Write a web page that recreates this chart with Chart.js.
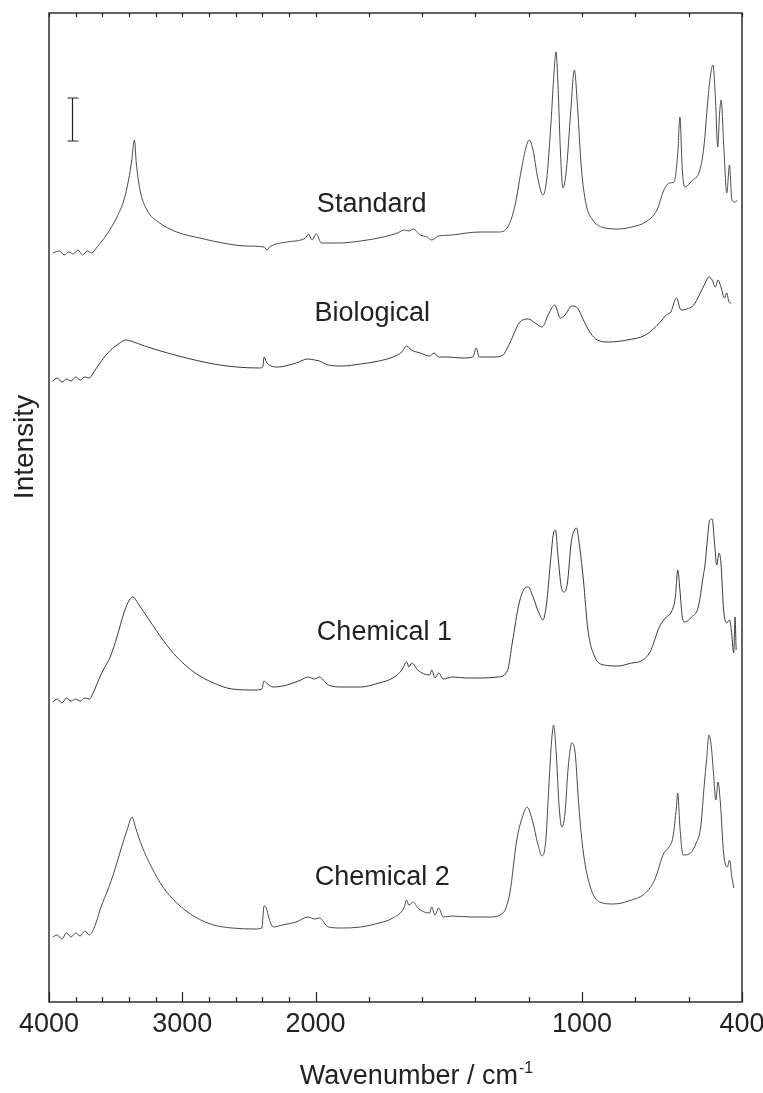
<!DOCTYPE html>
<html>
<head>
<meta charset="utf-8">
<title>IR spectra</title>
<script src="https://cdn.jsdelivr.net/npm/chart.js@4.4.1/dist/chart.umd.min.js"></script>
<style>
  html, body { margin: 0; padding: 0; background: #fff; }
  #wrap { width: 763px; height: 1093px; }
</style>
</head>
<body>
<div id="wrap"><canvas id="spectra"></canvas></div>
<script>
// Wavenumber (cm-1) and intensity (a.u., each trace offset)

const standardWn = [3972,3921,3886,3852,3817,3783,3748,3714,3679,3645,3559,3490,3438,3403,3379,3359,3345,3317,3265,3179,
  3041,2869,2696,2524,2386,2365,2345,2214,2076,2052,2027,1997,1978,1917,1831,1745,1693,1667,1650,1633,
  1607,1581,1564,1538,1486,1434,1383,1314,1279,1253,1228,1210,1198,1184,1167,1147,1133,1116,1107,1098,
  1090,1081,1072,1059,1043,1029,1017,1003,986,960,926,865,814,762,719,693,672,655,641,633,
  624,615,589,558,543,529,517,509,500,491,484,478,469,457,447,438,426,418];
const standardInt = [749,751,747,750,748,752,747,751,749,754,769,785,802,822,842,862,839,812,792,780,
  770,764,759,756,755,752,755,760,764,768,762,768,759,759,761,765,769,772,771,773,
  767,765,762,766,767,769,770,770,775,795,832,855,862,852,825,807,822,882,922,950,
  915,849,814,832,889,932,895,835,799,782,775,773,775,780,792,812,819,820,849,885,
  832,815,821,832,855,899,929,937,905,855,889,902,859,809,837,802,800,802];

const biologicalWn = [3972,3938,3903,3869,3834,3800,3766,3731,3697,3669,3628,3559,3490,3421,3386,3283,3110,2938,2765,2593,
  2421,2396,2386,2369,2334,2283,2145,2058,2007,1986,1952,1900,1831,1762,1710,1676,1658,1641,1607,1572,
  1555,1538,1503,1452,1410,1397,1386,1331,1297,1271,1236,1202,1176,1150,1124,1103,1081,1064,1038,1017,
  995,969,943,900,831,762,710,684,667,646,629,607,581,560,538,524,512,500,490,478,
  466,457,449,440];
const biologicalInt = [621,624,620,623,621,625,622,625,624,629,637,649,657,662,661,656,649,643,638,635,
  634,635,645,640,636,635,639,643,642,641,637,636,638,641,645,650,656,652,649,646,
  649,645,645,644,645,654,645,645,647,659,679,683,679,675,689,697,684,687,696,694,
  682,669,662,660,662,667,679,687,690,704,692,693,697,707,719,725,722,715,722,714,
  704,709,700,699];

const chemical1Wn = [3972,3938,3903,3869,3834,3800,3766,3731,3697,3669,3628,3593,3541,3490,3438,3397,3369,3334,3248,3145,
  3041,2903,2765,2627,2455,2403,2386,2369,2317,2214,2110,2058,2007,1986,1952,1900,1831,1762,1710,1676,
  1658,1650,1638,1617,1572,1564,1552,1538,1521,1486,1434,1383,1314,1279,1262,1236,1214,1202,1184,1162,
  1147,1133,1119,1107,1100,1090,1078,1067,1055,1041,1029,1021,1009,995,978,952,917,865,814,779,
  745,710,684,667,650,641,633,624,615,589,564,546,538,529,521,512,503,495,486,479,
  469,457,447,440,431,426,422];
const chemical1Int = [300,303,299,304,301,303,301,304,303,309,322,332,345,365,389,402,405,399,382,362,
  345,329,319,313,312,313,321,319,315,317,322,325,323,325,317,315,315,319,324,332,
  340,335,339,332,327,332,324,329,323,325,324,324,325,332,359,399,414,415,405,389,
  382,399,439,469,472,445,415,410,419,459,472,474,455,422,372,345,337,336,339,341,
  350,375,385,389,405,432,412,385,380,385,395,425,439,465,482,483,459,437,449,439,
  392,379,382,372,349,385,352];

const chemical2Wn = [3972,3938,3903,3869,3834,3800,3766,3731,3697,3662,3645,3610,3559,3507,3455,3414,3376,3352,3300,3231,
  3145,3041,2903,2765,2627,2455,2403,2386,2369,2352,2317,2248,2145,2058,2007,1986,1952,1900,1831,1762,
  1710,1667,1659,1650,1633,1616,1572,1564,1552,1538,1521,1486,1417,1348,1297,1271,1245,1219,1207,1184,
  1167,1150,1136,1124,1114,1107,1097,1086,1076,1064,1052,1038,1026,1012,995,969,934,883,814,762,
  728,693,676,659,646,641,633,621,598,572,555,541,533,524,515,507,498,490,481,469,
  455,447,438,431];
const chemical2Int = [65,67,63,69,65,69,66,71,67,74,80,95,112,132,155,172,185,175,155,135,
  115,99,85,77,74,73,74,96,94,85,75,77,80,85,83,84,75,74,75,79,
  84,95,102,97,100,94,89,95,87,94,85,86,85,85,89,109,162,189,195,179,
  159,146,162,219,262,277,249,195,175,189,235,259,249,195,149,115,100,98,102,109,
  122,149,154,165,195,209,175,147,148,159,175,219,242,267,255,229,202,220,199,149,
  135,142,125,114];

const traceNames = ["Standard", "Biological", "Chemical 1", "Chemical 2"];
const tickValues = [4000,3800,3600,3400,3200,3000,2800,2600,2400,2200,2000,1800,1600,1400,1200,1000,800,600,400];
const tickLabels = [4000, 3000, 2000, 1000, 400];

// where the trace names sit, in data units (wavenumber, intensity at baseline)
const nameSpots = [[1995, 790], [2008, 681], [1995, 362], [2006, 117]];
// the intensity scale bar
const barWn = 3827, barTop = 904, barBottom = 861;

const FONT = '"Liberation Sans", Arial, Helvetica, sans-serif';
const INK = '#222';

// IR-style axis: 4000-2000 cm-1 is drawn at half the density of 2000-400
const BREAK_WN = 2000;
function toUnit(w) {
  return w >= BREAK_WN ? (4000 - w) / 2 : (4000 - BREAK_WN) / 2 + (BREAK_WN - w);
}
function fromUnit(u) {
  const ub = (4000 - BREAK_WN) / 2;
  return u <= ub ? 4000 - u * 2 : BREAK_WN - (u - ub);
}

class SplitScale extends Chart.LinearScale {
  buildTicks() {
    return tickValues.map(value => ({ value }));
  }
  getPixelForValue(value) {
    const u0 = toUnit(this.max), u1 = toUnit(this.min);
    return this.getPixelForDecimal((toUnit(value) - u0) / (u1 - u0));
  }
  getValueForPixel(pixel) {
    const u0 = toUnit(this.max), u1 = toUnit(this.min);
    return fromUnit(u0 + this.getDecimalForPixel(pixel) * (u1 - u0));
  }
}
SplitScale.id = 'split';
SplitScale.defaults = {};
Chart.register(SplitScale);

function trace(wn, inten) {
  return wn.map((w, i) => ({ x: w, y: inten[i] }));
}

const decor = {
  id: 'decor',
  afterDatasetsDraw(chart) {
    const { ctx, chartArea: a, scales: { x, y } } = chart;
    ctx.save();
    ctx.strokeStyle = INK;
    ctx.lineWidth = 1.4;
    ctx.strokeRect(a.left, a.top, a.right - a.left, a.bottom - a.top);

    // inward tick marks, bottom and top
    ctx.lineWidth = 1.2;
    x.ticks.forEach(t => {
      const px = Math.round(x.getPixelForValue(t.value)) + 0.5;
      const major = tickLabels.includes(t.value);
      ctx.beginPath();
      ctx.moveTo(px, a.bottom);
      ctx.lineTo(px, a.bottom - (major ? 10 : 5));
      ctx.moveTo(px, a.top);
      ctx.lineTo(px, a.top + 4);
      ctx.stroke();
    });

    // scale bar
    const bx = Math.round(x.getPixelForValue(barWn)) + 0.5;
    const bt = y.getPixelForValue(barTop), bb = y.getPixelForValue(barBottom);
    ctx.beginPath();
    ctx.moveTo(bx, bt); ctx.lineTo(bx, bb);
    ctx.moveTo(bx - 5, bt); ctx.lineTo(bx + 6, bt);
    ctx.moveTo(bx - 5, bb); ctx.lineTo(bx + 6, bb);
    ctx.stroke();

    // trace names
    ctx.fillStyle = INK;
    ctx.font = '27px ' + FONT;
    ctx.textAlign = 'left';
    ctx.textBaseline = 'alphabetic';
    traceNames.forEach((name, i) => {
      ctx.fillText(name, x.getPixelForValue(nameSpots[i][0]), y.getPixelForValue(nameSpots[i][1]));
    });

    // axis titles
    ctx.font = '27px ' + FONT;
    const main = 'Wavenumber / cm';
    const mw = ctx.measureText(main).width;
    ctx.font = '16px ' + FONT;
    const sup = '-1';
    const sw = ctx.measureText(sup).width;
    const tx = 416 - (mw + sw) / 2, ty = 1084;
    ctx.font = '27px ' + FONT;
    ctx.fillText(main, tx, ty);
    ctx.font = '16px ' + FONT;
    ctx.fillText(sup, tx + mw + 1, ty - 11);

    ctx.font = '28px ' + FONT;
    ctx.translate(33, 447);
    ctx.rotate(-Math.PI / 2);
    ctx.textAlign = 'center';
    ctx.fillText('Intensity', 0, 0);
    ctx.restore();
  }
};

const colors = ['#4a4a4a', '#3a3a3a', '#3a3a3a', '#4a4a4a'];
const series = [
  trace(standardWn, standardInt),
  trace(biologicalWn, biologicalInt),
  trace(chemical1Wn, chemical1Int),
  trace(chemical2Wn, chemical2Int)
];

new Chart(document.getElementById('spectra'), {
  type: 'line',
  data: {
    datasets: series.map((d, i) => ({
      label: traceNames[i],
      data: d,
      borderColor: colors[i],
      borderWidth: 1,
      pointRadius: 0,
      cubicInterpolationMode: 'monotone',
      fill: false
    }))
  },
  options: {
    responsive: true,
    maintainAspectRatio: false,
    animation: false,
    devicePixelRatio: 1,
    layout: { padding: { left: 49, right: 21, top: 13, bottom: 0 } },
    plugins: { legend: { display: false }, tooltip: { enabled: false } },
    scales: {
      x: {
        type: 'split',
        min: 400,
        max: 4000,
        grid: { display: false, drawTicks: false },
        border: { display: false },
        ticks: {
          autoSkip: false,
          maxRotation: 0,
          padding: 6,
          color: INK,
          font: { family: FONT, size: 27 },
          callback: v => tickLabels.includes(v) ? String(v) : ''
        },
        afterFit(s) { s.height = 91; s.paddingLeft = 0; s.paddingRight = 0; }
      },
      y: { display: false, min: 0, max: 989 }
    }
  },
  plugins: [decor]
});
</script>
</body>
</html>
